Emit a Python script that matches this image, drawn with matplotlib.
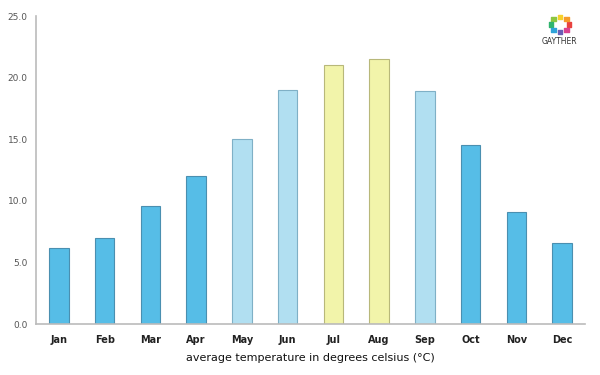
import matplotlib
matplotlib.use("Agg")
import matplotlib.pyplot as plt
import numpy as np

months = ["Jan", "Feb", "Mar", "Apr", "May", "Jun",
          "Jul", "Aug", "Sep", "Oct", "Nov", "Dec"]
temps = [6.2, 7.0, 9.6, 12.0, 15.0, 19.0, 21.0, 21.5, 18.9, 14.5, 9.1, 6.6]
# season groups: cold / mild / warm
season = ["cold", "cold", "cold", "cold", "mild", "mild",
          "warm", "warm", "mild", "cold", "cold", "cold"]

fill = {"cold": "#56bde7", "mild": "#b1dff1", "warm": "#f2f4aa"}
edge = {"cold": "#4a8fb0", "mild": "#7fb0c6", "warm": "#b8b87a"}

fig = plt.figure(figsize=(6, 3.75), dpi=100)
ax = fig.add_axes([0.06, 0.136, 0.915, 0.821])

x = np.arange(len(months))
ax.bar(x, temps, width=0.43,
       color=[fill[s] for s in season],
       edgecolor=[edge[s] for s in season], linewidth=0.8, zorder=2)

ax.set_xlim(-0.5, len(months) - 0.5)
ax.set_ylim(0, 25)
ax.set_yticks(np.arange(0, 26, 5))
ax.set_yticklabels([f"{v:.1f}" for v in np.arange(0, 26, 5)],
                   fontsize=6.5, color="#555555")
ax.set_xticks(x)
ax.set_xticklabels(months, fontsize=7, color="#222222", fontweight="bold")
ax.tick_params(axis="both", length=0)
ax.tick_params(axis="y", pad=6)
ax.tick_params(axis="x", pad=8)

for side in ["top", "right"]:
    ax.spines[side].set_visible(False)
for side in ["left", "bottom"]:
    ax.spines[side].set_color("#bbbbbb")
    ax.spines[side].set_linewidth(1.2)

ax.set_xlabel("average temperature in degrees celsius (\u00b0C)",
              fontsize=8, color="#111111", labelpad=6)

# little logo in the top right corner
lax = fig.add_axes([0.9, 0.89, 0.067, 0.09])
ang = np.linspace(0, 2 * np.pi, 8, endpoint=False)
ring_cols = ["#e8423f", "#f59b2b", "#f6d12c", "#8cc641",
             "#2fb46e", "#2ea3d8", "#6a5fb5", "#d9428f"]
lax.scatter(np.cos(ang), np.sin(ang), s=10, c=ring_cols, marker="s")
lax.set_xlim(-2.2, 2.2)
lax.set_ylim(-2.2, 2.2)
lax.axis("off")
fig.text(0.933, 0.888, "GAYTHER", fontsize=5.5, ha="center", va="center",
         color="#333333")

fig.savefig("out.png", dpi=100)
